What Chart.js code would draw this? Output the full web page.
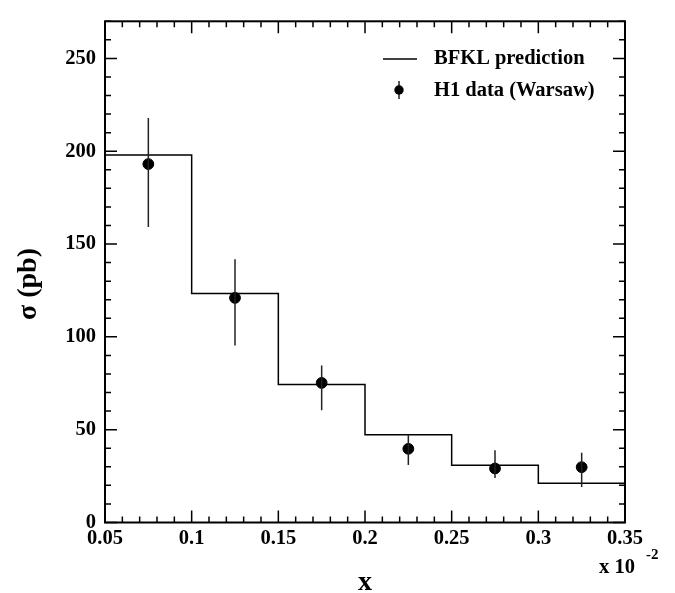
<!DOCTYPE html>
<html>
<head>
<meta charset="utf-8">
<script src="https://cdn.jsdelivr.net/npm/chart.js@4.4.1/dist/chart.umd.min.js"></script>
<style>
  body { margin: 0; background: #fff; }
  canvas { display: block; }
</style>
</head>
<body>
<canvas id="chart" width="675" height="593"></canvas>
<script>
// --- DATA ---
const binEdges = [0.05, 0.1, 0.15, 0.2, 0.25, 0.3, 0.35];
const bfkl = [198.0, 123.3, 74.3, 47.3, 30.8, 21.2];
const xCenters = [0.075, 0.125, 0.175, 0.225, 0.275, 0.325];
const h1 = [193.1, 121.0, 75.2, 39.7, 29.1, 29.8];
const h1ErrUp = [24.8, 20.8, 9.4, 7.4, 9.8, 7.8];
const h1ErrDown = [33.9, 25.7, 14.7, 8.7, 5.1, 10.7];
const xTickLabels = ['0.05', '0.1', '0.15', '0.2', '0.25', '0.3', '0.35'];
const yTickLabels = ['0', '50', '100', '150', '200', '250'];

const FONT = '"Liberation Serif", "Times New Roman", serif';

// stepped histogram: one point per left edge, plus the last right edge
const histPoints = binEdges.map((x, i) => ({ x: x, y: bfkl[Math.min(i, bfkl.length - 1)] }));
const h1Points = xCenters.map((x, i) => ({ x: x, y: h1[i] }));

function isMajor(v, step) {
    const r = v / step;
    return Math.abs(r - Math.round(r)) < 1e-6;
}

// frame, inward ticks on all four sides, error bars, legend, axis titles
const decorations = {
    id: 'decorations',
    afterDatasetsDraw(chart) {
        const ctx = chart.ctx;
        const area = chart.chartArea;
        const xs = chart.scales.x;
        const ys = chart.scales.y;

        ctx.save();
        // error bars
        ctx.strokeStyle = '#222';
        ctx.lineWidth = 1.5;
        xCenters.forEach((x, i) => {
            const px = xs.getPixelForValue(x);
            ctx.beginPath();
            ctx.moveTo(px, ys.getPixelForValue(h1[i] + h1ErrUp[i]));
            ctx.lineTo(px, ys.getPixelForValue(h1[i] - h1ErrDown[i]));
            ctx.stroke();
        });

        // ticks
        ctx.strokeStyle = '#000';
        ctx.lineWidth = 1.5;
        xs.ticks.forEach(t => {
            const px = xs.getPixelForValue(t.value);
            const len = isMajor(t.value, 0.05) ? 12 : 6;
            ctx.beginPath();
            ctx.moveTo(px, area.bottom);
            ctx.lineTo(px, area.bottom - len);
            ctx.moveTo(px, area.top);
            ctx.lineTo(px, area.top + len);
            ctx.stroke();
        });
        ys.ticks.forEach(t => {
            const py = ys.getPixelForValue(t.value);
            const len = isMajor(t.value, 50) ? 12 : 6;
            ctx.beginPath();
            ctx.moveTo(area.left, py);
            ctx.lineTo(area.left + len, py);
            ctx.moveTo(area.right, py);
            ctx.lineTo(area.right - len, py);
            ctx.stroke();
        });

        // frame
        ctx.lineWidth = 2;
        ctx.strokeRect(area.left, area.top, area.right - area.left, area.bottom - area.top);

        // legend
        const hist = chart.data.datasets[0];
        const pts = chart.data.datasets[1];
        ctx.strokeStyle = hist.borderColor;
        ctx.lineWidth = hist.borderWidth;
        ctx.beginPath();
        ctx.moveTo(383, 59);
        ctx.lineTo(417, 59);
        ctx.stroke();

        ctx.strokeStyle = '#222';
        ctx.lineWidth = 1.5;
        ctx.beginPath();
        ctx.moveTo(399, 81);
        ctx.lineTo(399, 99);
        ctx.stroke();
        ctx.fillStyle = pts.backgroundColor;
        ctx.beginPath();
        ctx.arc(399, 90, 4.7, 0, Math.PI * 2);
        ctx.fill();

        ctx.fillStyle = '#000';
        ctx.font = 'bold 20.5px ' + FONT;
        ctx.textAlign = 'left';
        ctx.textBaseline = 'middle';
        ctx.fillText(hist.label, 434, 59);
        ctx.fillText(pts.label, 434, 91);

        // axis titles
        ctx.font = 'bold 28px ' + FONT;
        ctx.textAlign = 'center';
        ctx.textBaseline = 'alphabetic';
        ctx.fillText('x', 365, 590);

        ctx.save();
        ctx.translate(36, 284);
        ctx.rotate(-Math.PI / 2);
        ctx.fillText('\u03c3 (pb)', 0, 0);
        ctx.restore();

        // exponent
        ctx.textAlign = 'left';
        ctx.font = 'bold 20.5px ' + FONT;
        ctx.fillText('x 10', 599, 573);
        ctx.font = 'bold 15px ' + FONT;
        ctx.fillText('-2', 646, 559);
        ctx.restore();
    }
};

new Chart(document.getElementById('chart'), {
    type: 'scatter',
    data: {
        datasets: [
            {
                type: 'line',
                label: 'BFKL prediction',
                data: histPoints,
                stepped: 'before',
                borderColor: '#000',
                borderWidth: 1.5,
                pointRadius: 0,
                fill: false
            },
            {
                label: 'H1 data (Warsaw)',
                data: h1Points,
                backgroundColor: '#000',
                borderColor: '#000',
                pointRadius: 5.4,
                pointHoverRadius: 5.4
            }
        ]
    },
    options: {
        responsive: false,
        animation: false,
        layout: { padding: { left: 0, right: 50, top: 7, bottom: 0 } },
        plugins: {
            legend: { display: false },
            tooltip: { enabled: false }
        },
        scales: {
            x: {
                type: 'linear',
                min: 0.05,
                max: 0.35,
                afterFit: s => { s.height = 70.5; },
                grid: { display: false, drawTicks: false },
                border: { display: false },
                ticks: {
                    stepSize: 0.01,
                    autoSkip: false,
                    maxRotation: 0,
                    padding: 4,
                    color: '#000',
                    font: { family: FONT, size: 20.5, weight: 'bold' },
                    callback: v => {
                        const i = Math.round((v - 0.05) / 0.05);
                        return isMajor(v, 0.05) ? xTickLabels[i] : '';
                    }
                }
            },
            y: {
                min: 0,
                max: 270,
                afterFit: s => { s.width = 105; },
                grid: { display: false, drawTicks: false },
                border: { display: false },
                ticks: {
                    stepSize: 10,
                    autoSkip: false,
                    padding: 9,
                    color: '#000',
                    font: { family: FONT, size: 20.5, weight: 'bold' },
                    callback: v => (isMajor(v, 50) ? yTickLabels[Math.round(v / 50)] : '')
                }
            }
        }
    },
    plugins: [decorations]
});
</script>
</body>
</html>
